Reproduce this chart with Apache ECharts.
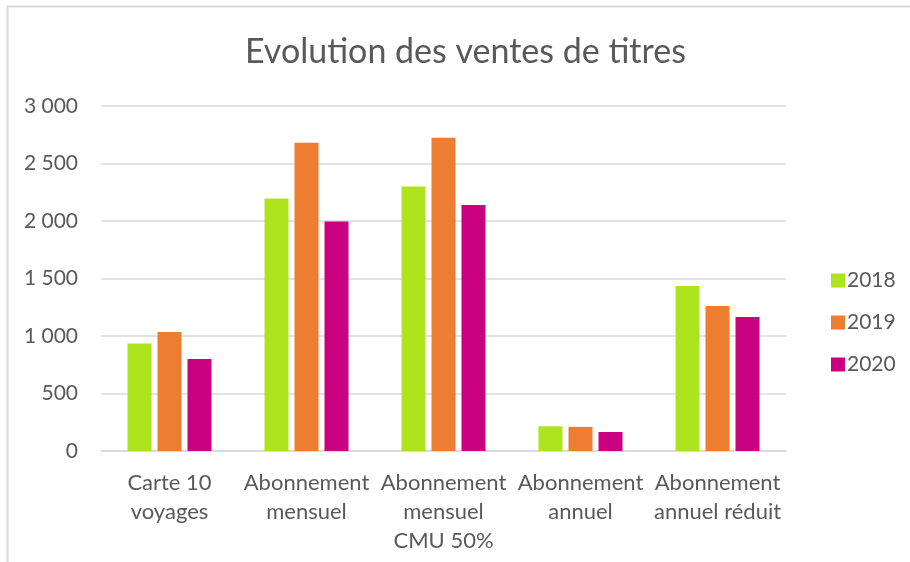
<!DOCTYPE html>
<html>
<head>
<meta charset="utf-8">
<script src="https://cdn.jsdelivr.net/npm/echarts@6/dist/echarts.min.js"></script>
<style>
  html, body { margin: 0; padding: 0; background: #fff; }
  #chart { width: 910px; height: 562px; }
</style>
</head>
<body>
<div id="chart"></div>
<script>
var categories = ['Carte 10\nvoyages', 'Abonnement\nmensuel', 'Abonnement\nmensuel\nCMU 50%',
                  'Abonnement\nannuel', 'Abonnement\nannuel réduit'];
var years = ['2018', '2019', '2020'];
var ventes2018 = [935, 2195, 2300, 215, 1435];
var ventes2019 = [1035, 2680, 2725, 210, 1260];
var ventes2020 = [800, 1995, 2140, 165, 1165];
var colors = ['#ADE41E', '#ED7D31', '#C9007F'];

var chartDom = document.getElementById('chart');
var myChart = echarts.init(chartDom);
var font = 'Lato, "Open Sans", sans-serif';

function fmt(v) {
    return String(v).replace(/\B(?=(\d{3})+(?!\d))/g, ' ');
}

var allValues = [ventes2018, ventes2019, ventes2020];
var series = years.map(function (y, i) {
    return {
        name: y,
        type: 'bar',
        data: allValues[i],
        barWidth: 24,
        barGap: '25%',
        itemStyle: { color: colors[i] }
    };
});

var option = {
    animation: false,
    color: colors,
    graphic: [{
        type: 'rect',
        shape: { x: 7.5, y: 6.5, width: 920, height: 600 },
        style: { fill: 'none', stroke: '#d9d9d9', lineWidth: 2 },
        silent: true
    }],
    title: {
        text: 'Evolution des ventes de titres',
        left: 240,
        top: 30,
        textStyle: { fontFamily: font, fontSize: 34, fontWeight: 'normal', color: '#595959' }
    },
    legend: {
        orient: 'vertical',
        left: 826,
        top: 265,
        itemWidth: 14,
        itemHeight: 14,
        itemGap: 21,
        icon: 'rect',
        data: years,
        textStyle: { fontFamily: font, fontSize: 21, color: '#595959', padding: [0, 0, 0, -3] }
    },
    grid: { left: 101, right: 124, top: 106, bottom: 111 },
    xAxis: {
        type: 'category',
        data: categories,
        axisLine: { lineStyle: { color: '#d9d9d9', width: 1.5 } },
        axisTick: { show: false },
        axisLabel: {
            interval: 0,
            margin: 17,
            fontFamily: font,
            fontSize: 22,
            lineHeight: 29,
            color: '#595959'
        }
    },
    yAxis: {
        type: 'value',
        min: 0,
        max: 3000,
        interval: 500,
        axisLine: { show: false },
        axisTick: { show: false },
        splitLine: { lineStyle: { color: '#d9d9d9', width: 1.5 } },
        axisLabel: {
            margin: 23,
            fontFamily: font,
            fontSize: 21,
            color: '#595959',
            formatter: fmt
        }
    },
    series: series
};

option && myChart.setOption(option);
</script>
</body>
</html>
